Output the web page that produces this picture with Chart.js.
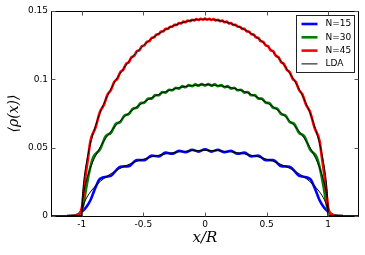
<!DOCTYPE html>
<html>
<head>
<meta charset="utf-8">
<script src="https://cdn.jsdelivr.net/npm/chart.js@4.4.0/dist/chart.umd.min.js"></script>
<style>
  html, body { margin: 0; padding: 0; background: #fff; }
  #wrap { width: 365px; height: 255px; }
</style>
</head>
<body>
<div id="wrap"><canvas id="rhoChart"></canvas></div>
<script>
// x/R positions and <rho(x)> values
const xN15 = [-1.12, -1.07, -1.03, -1.0, -0.96, -0.929, -0.886, -0.8523, -0.7636, -0.6874, -0.6182, -0.5534, -0.492, -0.433, -0.3757, -0.3198, -0.265, -0.2111, -0.1578, -0.1049, -0.0524, 0,
  0.0524, 0.1049, 0.1578, 0.2111, 0.265, 0.3198, 0.3757, 0.433, 0.492, 0.5534, 0.6182, 0.6874, 0.7636, 0.8523, 0.886, 0.929, 0.96, 1.0, 1.03, 1.07, 1.12];
const rhoN15 = [0, 0.0002, 0.0012, 0.003, 0.007, 0.0117, 0.0215, 0.0272, 0.0294, 0.0361, 0.0365, 0.041, 0.0408, 0.0442, 0.0436, 0.0464, 0.0455, 0.0477, 0.0466, 0.0485, 0.0471, 0.0488,
  0.0471, 0.0485, 0.0466, 0.0477, 0.0455, 0.0464, 0.0436, 0.0442, 0.0408, 0.041, 0.0365, 0.0361, 0.0294, 0.0272, 0.0215, 0.0117, 0.007, 0.003, 0.0012, 0.0002, 0];

const xN30 = [-1.12, -1.07, -1.03, -1.0, -0.98, -0.962, -0.935, -0.9078, -0.8523, -0.8057, -0.7636, -0.7245, -0.6874, -0.6519, -0.6182, -0.5854, -0.5534, -0.5225, -0.492, -0.4622, -0.433, -0.404, -0.3757, -0.3475, -0.3198, -0.2922, -0.265, -0.2379, -0.2111, -0.1844, -0.1578, -0.1313, -0.1049, -0.0786, -0.0524, -0.0262, 0,
  0.0262, 0.0524, 0.0786, 0.1049, 0.1313, 0.1578, 0.1844, 0.2111, 0.2379, 0.265, 0.2922, 0.3198, 0.3475, 0.3757, 0.404, 0.433, 0.4622, 0.492, 0.5225, 0.5534, 0.5854, 0.6182, 0.6519, 0.6874, 0.7245, 0.7636, 0.8057, 0.8523, 0.9078, 0.935, 0.962, 0.98, 1.0, 1.03, 1.07, 1.12];
const rhoN30 = [0, 0.0001, 0.001, 0.004, 0.012, 0.0215, 0.034, 0.0428, 0.0487, 0.0584, 0.0608, 0.0673, 0.0688, 0.0737, 0.0745, 0.0786, 0.0792, 0.0826, 0.0829, 0.0859, 0.0859, 0.0885, 0.0883, 0.0907, 0.0903, 0.0924, 0.092, 0.0938, 0.0932, 0.095, 0.0942, 0.0958, 0.0949, 0.0963, 0.0953, 0.0966, 0.0954,
  0.0966, 0.0953, 0.0963, 0.0949, 0.0958, 0.0942, 0.095, 0.0932, 0.0938, 0.092, 0.0924, 0.0903, 0.0907, 0.0883, 0.0885, 0.0859, 0.0859, 0.0829, 0.0826, 0.0792, 0.0786, 0.0745, 0.0737, 0.0688, 0.0673, 0.0608, 0.0584, 0.0487, 0.0428, 0.034, 0.0215, 0.012, 0.004, 0.001, 0.0001, 0];

const xN45 = [-1.1, -1.05, -1.02, -1.0, -0.99, -0.97, -0.95, -0.9299, -0.888, -0.8523, -0.8212, -0.7913, -0.7636, -0.7372, -0.7118, -0.6874, -0.6637, -0.6406, -0.6182, -0.596, -0.5747, -0.5534, -0.5327, -0.5122, -0.492, -0.4721, -0.4523, -0.433, -0.4137, -0.3945, -0.3757, -0.3569, -0.3383, -0.3198, -0.3013, -0.2831, -0.265, -0.2469, -0.2289, -0.2111, -0.1932, -0.1754, -0.1578, -0.1401, -0.1225, -0.1049, -0.0874, -0.0699, -0.0524, -0.0349, -0.0175, 0,
  0.0175, 0.0349, 0.0524, 0.0699, 0.0874, 0.1049, 0.1225, 0.1401, 0.1578, 0.1754, 0.1932, 0.2111, 0.2289, 0.2469, 0.265, 0.2831, 0.3013, 0.3198, 0.3383, 0.3569, 0.3757, 0.3945, 0.4137, 0.433, 0.4523, 0.4721, 0.492, 0.5122, 0.5327, 0.5534, 0.5747, 0.596, 0.6182, 0.6406, 0.6637, 0.6874, 0.7118, 0.7372, 0.7636, 0.7913, 0.8212, 0.8523, 0.888, 0.9299, 0.95, 0.97, 0.99, 1.0, 1.02, 1.05, 1.1];
const rhoN45 = [0, 0.0002, 0.0015, 0.006, 0.013, 0.029, 0.042, 0.0548, 0.0649, 0.0763, 0.0812, 0.0888, 0.0922, 0.0981, 0.1004, 0.1052, 0.1071, 0.1112, 0.1126, 0.1162, 0.1173, 0.1205, 0.1213, 0.1242, 0.1249, 0.1274, 0.1279, 0.1303, 0.1307, 0.1328, 0.133, 0.135, 0.1351, 0.1369, 0.1369, 0.1385, 0.1385, 0.1399, 0.1398, 0.1412, 0.1409, 0.1422, 0.1418, 0.143, 0.1425, 0.1436, 0.1431, 0.1441, 0.1434, 0.1443, 0.1436, 0.1444,
  0.1436, 0.1443, 0.1434, 0.1441, 0.1431, 0.1436, 0.1425, 0.143, 0.1418, 0.1422, 0.1409, 0.1412, 0.1398, 0.1399, 0.1385, 0.1385, 0.1369, 0.1369, 0.1351, 0.135, 0.133, 0.1328, 0.1307, 0.1303, 0.1279, 0.1274, 0.1249, 0.1242, 0.1213, 0.1205, 0.1173, 0.1162, 0.1126, 0.1112, 0.1071, 0.1052, 0.1004, 0.0981, 0.0922, 0.0888, 0.0812, 0.0763, 0.0649, 0.0548, 0.042, 0.029, 0.013, 0.006, 0.0015, 0.0002, 0];

// LDA curves
const xLda = [-1.25, -1, -0.995, -0.99, -0.98, -0.97, -0.95, -0.925, -0.9, -0.85, -0.8, -0.75, -0.7, -0.6, -0.5, -0.4, -0.3, -0.2, -0.1, 0,
  0.1, 0.2, 0.3, 0.4, 0.5, 0.6, 0.7, 0.75, 0.8, 0.85, 0.9, 0.925, 0.95, 0.97, 0.98, 0.99, 0.995, 1, 1.25];
const lda15 = [0, 0, 0.0048, 0.0068, 0.0096, 0.0117, 0.015, 0.0182, 0.0209, 0.0253, 0.0288, 0.0317, 0.0343, 0.0384, 0.0416, 0.044, 0.0458, 0.047, 0.0478, 0.048,
  0.0478, 0.047, 0.0458, 0.044, 0.0416, 0.0384, 0.0343, 0.0317, 0.0288, 0.0253, 0.0209, 0.0182, 0.015, 0.0117, 0.0096, 0.0068, 0.0048, 0, 0];
const lda30 = [0, 0, 0.0096, 0.0135, 0.0191, 0.0233, 0.03, 0.0365, 0.0418, 0.0506, 0.0576, 0.0635, 0.0686, 0.0768, 0.0831, 0.088, 0.0916, 0.0941, 0.0955, 0.096,
  0.0955, 0.0941, 0.0916, 0.088, 0.0831, 0.0768, 0.0686, 0.0635, 0.0576, 0.0506, 0.0418, 0.0365, 0.03, 0.0233, 0.0191, 0.0135, 0.0096, 0, 0];
const lda45 = [0, 0, 0.0144, 0.0203, 0.0287, 0.035, 0.045, 0.0547, 0.0628, 0.0759, 0.0864, 0.0953, 0.1028, 0.1152, 0.1247, 0.132, 0.1374, 0.1411, 0.1433, 0.144,
  0.1433, 0.1411, 0.1374, 0.132, 0.1247, 0.1152, 0.1028, 0.0953, 0.0864, 0.0759, 0.0628, 0.0547, 0.045, 0.035, 0.0287, 0.0203, 0.0144, 0, 0];

const xTicks = [-1, -0.5, 0, 0.5, 1];
const yTicks = [0, 0.05, 0.1, 0.15];

const toPts = (xs, ys) => xs.map((x, i) => ({ x: x, y: ys[i] }));

function curve(label, xs, ys, color, width, order, inKey) {
  return {
    label: label,
    data: toPts(xs, ys),
    borderColor: color,
    borderWidth: width,
    pointRadius: 0,
    fill: false,
    cubicInterpolationMode: 'monotone',
    order: order,
    inKey: inKey
  };
}

// frame, inward ticks and legend box like the original figure
const framePlugin = {
  id: 'framePlugin',
  afterDraw(chart) {
    const { ctx, chartArea: a, scales } = chart;
    const L = a.left + 0.5, R = a.right - 0.5, T = a.top + 0.5, B = a.bottom + 0.5;
    ctx.save();
    ctx.strokeStyle = '#000';
    ctx.lineWidth = 1;
    ctx.strokeRect(L, T, R - L, B - T);

    ctx.strokeStyle = '#555';
    ctx.beginPath();
    xTicks.forEach(v => {
      const px = Math.round(scales.x.getPixelForValue(v)) + 0.5;
      ctx.moveTo(px, B); ctx.lineTo(px, B - 4);
      ctx.moveTo(px, T); ctx.lineTo(px, T + 4);
    });
    yTicks.forEach(v => {
      const py = Math.round(scales.y.getPixelForValue(v)) + 0.5;
      ctx.moveTo(L, py); ctx.lineTo(L + 4, py);
      ctx.moveTo(R, py); ctx.lineTo(R - 4, py);
    });
    ctx.stroke();

    // legend
    const items = chart.data.datasets.filter(d => d.inKey);
    const bw = 58, bh = 57;
    const bx = Math.round(a.right - 5 - bw) + 0.5, by = Math.round(a.top + 4) + 0.5;
    ctx.fillStyle = '#fff';
    ctx.fillRect(bx, by, bw, bh);
    ctx.strokeStyle = '#222';
    ctx.strokeRect(bx, by, bw, bh);
    ctx.font = '9px "DejaVu Sans"';
    ctx.textBaseline = 'middle';
    ctx.textAlign = 'left';
    items.forEach((d, i) => {
      const ry = by + 8.5 + i * 13.3;
      ctx.strokeStyle = d.borderColor;
      ctx.lineWidth = d.borderWidth;
      ctx.beginPath();
      ctx.moveTo(bx + 5, ry);
      ctx.lineTo(bx + 21, ry);
      ctx.stroke();
      ctx.fillStyle = '#000';
      ctx.fillText(d.label, bx + 29, ry);
    });
    ctx.restore();
  }
};

const tickFont = { family: 'DejaVu Sans', size: 9 };

new Chart(document.getElementById('rhoChart'), {
  type: 'line',
  data: {
    datasets: [
      curve('LDA', xLda, lda15, '#000', 1, 0, false),
      curve('LDA', xLda, lda30, '#000', 1, 0, false),
      curve('LDA', xLda, lda45, '#000', 1, 0, false),
      curve('N=15', xN15, rhoN15, '#0000ff', 2.6, 3, true),
      curve('N=30', xN30, rhoN30, '#008000', 2.6, 2, true),
      curve('N=45', xN45, rhoN45, '#ff0000', 2.6, 1, true),
      curve('LDA', [], [], '#000', 1, 0, true)
    ]
  },
  options: {
    responsive: true,
    maintainAspectRatio: false,
    animation: false,
    layout: { padding: { top: 11, right: 6, left: 0, bottom: 0 } },
    plugins: {
      legend: { display: false },
      tooltip: { enabled: false }
    },
    scales: {
      x: {
        type: 'linear',
        min: -1.25,
        max: 1.25,
        grid: { display: false, drawTicks: false },
        border: { display: false },
        afterBuildTicks: s => { s.ticks = xTicks.map(v => ({ value: v })); },
        afterFit: s => { s.height = 39; },
        ticks: { color: '#000', font: tickFont, padding: 3, maxRotation: 0, callback: v => String(v) },
        title: {
          display: true,
          text: 'x/R',
          color: '#000',
          font: { family: 'DejaVu Serif', size: 15, style: 'italic' },
          padding: { top: 0, bottom: 8 }
        }
      },
      y: {
        type: 'linear',
        min: 0,
        max: 0.15,
        grid: { display: false, drawTicks: false },
        border: { display: false },
        afterBuildTicks: s => { s.ticks = yTicks.map(v => ({ value: v })); },
        afterFit: s => { s.width = 51; },
        ticks: { color: '#000', font: tickFont, padding: 3, callback: v => String(v) },
        title: {
          display: true,
          text: '\u27e8\u03c1(x)\u27e9',
          color: '#000',
          font: { family: 'DejaVu Serif', size: 14, style: 'italic' },
          padding: { top: 6, bottom: 0 }
        }
      }
    }
  },
  plugins: [framePlugin]
});
</script>
</body>
</html>
